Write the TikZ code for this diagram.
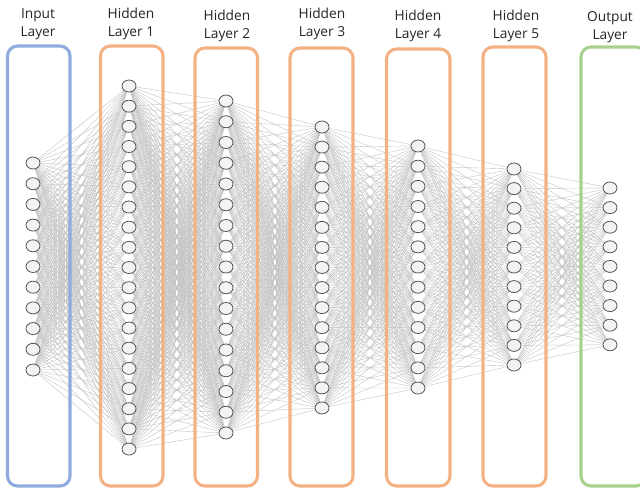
\documentclass[tikz,border=0pt]{standalone}
\usepackage{fontspec}
\setmainfont{Open Sans}
\usetikzlibrary{shapes.geometric}
\pgfdeclarelayer{paper}
\pgfdeclarelayer{edges}
\pgfdeclarelayer{frames}
\pgfsetlayers{paper,edges,frames,main}
\definecolor{inblue}{RGB}{143,170,220}
\definecolor{hidorange}{RGB}{244,177,131}
\definecolor{outgreen}{RGB}{169,209,142}
\definecolor{wirecol}{RGB}{196,196,196}
\definecolor{cellfill}{RGB}{243,243,243}
\definecolor{celldraw}{RGB}{85,85,85}
\definecolor{textcol}{RGB}{38,38,38}
\tikzset{
  neuron/.style={ellipse, draw=celldraw, fill=cellfill, line width=0.6pt,
    minimum width=10.5pt, minimum height=9pt, inner sep=0pt},
  wire/.style={draw=wirecol, line width=0.3pt},
  frame/.style={line width=2.3pt, rounded corners=7.5pt},
  layertext/.style={align=center, text=textcol, font=\fontsize{10.3}{13.5}\selectfont, inner sep=0pt}
}
\begin{document}
\begin{tikzpicture}[x=0.75pt, y=-0.75pt]
\useasboundingbox (0,0) rectangle (640,489);
\clip (0,0) rectangle (640,489);
\begin{pgfonlayer}{paper}
\fill[white] (0,0) rectangle (640,489);
\end{pgfonlayer}

% neurons: layer / x / count / first y / spacing
\foreach \l/\x/\n/\top/\sp in {0/33/11/163/20.7, 1/129/19/86/20.17,
    2/226/17/101/20.75, 3/322/15/127/20.07, 4/418/13/146/20.17,
    5/514/11/169/19.6, 6/610/9/188/19.6}{
  \foreach \i in {1,...,\n}{
    \node[neuron] (n\l-\i) at (\x, {\top+(\i-1)*\sp}) {};
  }
}

% full connections between neighbouring layers
\begin{pgfonlayer}{edges}
\foreach \a/\na/\b/\nb in {0/11/1/19, 1/19/2/17, 2/17/3/15, 3/15/4/13,
    4/13/5/11, 5/11/6/9}{
  \foreach \i in {1,...,\na}{
    \foreach \j in {1,...,\nb}{
      \draw[wire] (n\a-\i.center) -- (n\b-\j.center);
    }
  }
}
\end{pgfonlayer}

% layer frames
\begin{pgfonlayer}{frames}
\draw[frame, inblue] (7.5,46) rectangle (70,486);
\draw[frame, hidorange] (100.5,46) rectangle (163,486);
\draw[frame, hidorange] (195,48) rectangle (257.5,486);
\draw[frame, hidorange] (290,48) rectangle (353,486);
\draw[frame, hidorange] (386.5,49) rectangle (450,486);
\draw[frame, hidorange] (483,47) rectangle (546,486);
\draw[frame, outgreen] (581,47) rectangle (646,486);
\end{pgfonlayer}

% layer titles
\node[layertext] (t0) at (38,24) {Input\\Layer};
\node[layertext] (t1) at (131,24) {Hidden\\Layer 1};
\node[layertext] (t2) at (227,26) {Hidden\\Layer 2};
\node[layertext] (t3) at (322,24) {Hidden\\Layer 3};
\node[layertext] (t4) at (418,26) {Hidden\\Layer 4};
\node[layertext] (t5) at (516,26) {Hidden\\Layer 5};
\node[layertext] (t6) at (610,27) {Output\\Layer};
\end{tikzpicture}
\end{document}
